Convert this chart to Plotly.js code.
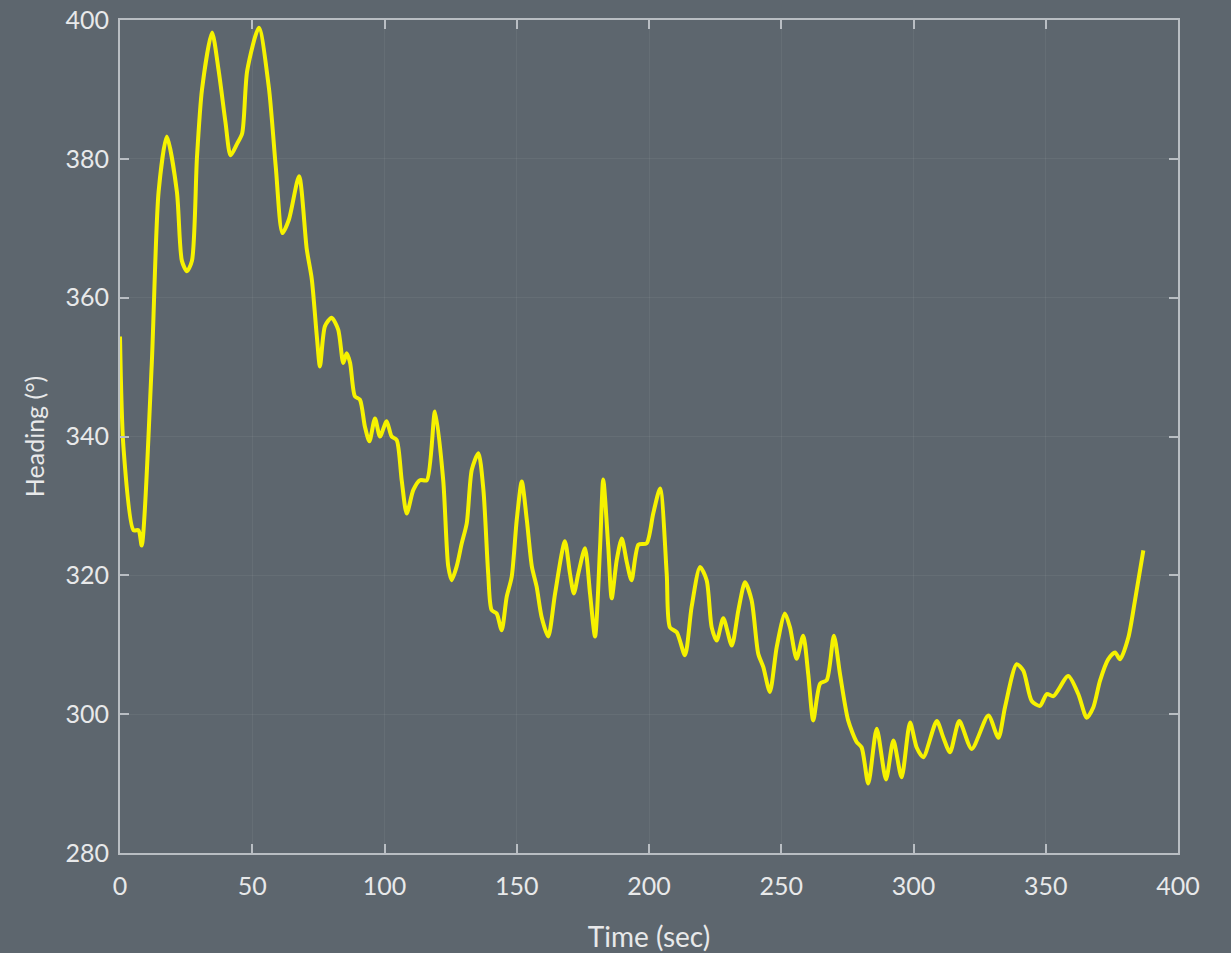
<!DOCTYPE html>
<html>
<head>
<meta charset="utf-8">
<script src="https://cdn.plot.ly/plotly-3.0.1.min.js"></script>
<style>
html,body{margin:0;padding:0;background:#5d666e;}
#chart{width:1231px;height:953px;}
</style>
</head>
<body>
<div id="chart"></div>
<script>
// Time (sec)
const timeSec = [0,1.3,5.1,7,8.2,12,14.6,17.7,21.5,23.4,25.3,27.2,29.1,31,34.8,37.3,39.9,41.8,44.3,46.2,48.1,52.5,56.3,58.9,61.4,63.9,67.7,70.6,72.5,74.4,75.6,77.5,80,82.5,84.4,85.7,87,88.8,90.7,92.6,94.3,96.4,98.3,100.8,102.7,104.6,106.5,108.4,110.9,113.4,116,119.1,122.2,124.1,125.4,127.3,129.2,131.1,133,135.5,137.4,139.2,140.5,142.4,144.3,146.2,148.1,150,151.9,153.8,155.7,157.5,159.4,161.9,164.5,168.2,170.1,171.6,173.3,175.8,177.7,179.6,181.5,182.7,184.6,185.9,187.8,189.7,191.6,193.4,196,199.1,201.6,204.2,206.7,207.9,210.5,213.6,216.1,219.3,221.8,223.7,225.6,228.1,231.3,233.8,236.3,238.8,241.3,243.2,245.7,248.3,251.4,253.3,255.8,258.3,260.2,262.1,264.7,267.2,269.9,272.2,275.3,278.5,280.4,282.9,286.1,289.6,292.4,295.5,298.7,301.2,303.7,308.8,311.3,313.8,317.3,322,328.3,332.1,334.6,339,341.5,344.7,347.8,350.4,352.9,358.5,362.3,365.5,368,370.5,373.6,376.2,378.1,381.2,383.7,386.9];
// Heading (deg)
const headingDeg = [354.4,338.5,326.5,326.5,324.3,350.4,375.3,383.2,375.3,365.3,363.8,365.3,380.2,390,398.2,392.7,385.2,380.5,382.2,383.7,392.7,398.9,390.2,378.8,369.3,371.3,377.5,367,362.7,354.5,350.1,355.9,357.1,355.4,350.6,352,350.6,345.8,345.3,341.4,339.3,342.6,340,342.2,340,339.5,333.7,328.9,332.3,333.7,333.7,343.6,333.7,321.3,319.3,321.3,324.6,327.5,335.2,337.6,332.3,320.3,315,314.5,312.1,316.9,319.8,328,333.5,328,321.3,318.4,314,311.2,317.4,324.9,320.3,317.4,320.3,323.9,317.4,311.2,324.1,333.8,324.1,316.7,322.2,325.3,321.9,319.3,324.4,324.6,328.9,332.5,320.2,312.5,311.8,308.5,315.4,321.2,319.3,312.5,310.6,313.8,309.9,315,319,316.4,308.7,306.8,303.2,309.7,314.5,312.5,308,311.3,305.8,299.1,304.4,304.9,311.3,305.8,299.1,296,295.2,290,297.9,290.6,296.2,290.9,298.8,295.2,293.8,299,296.6,294.5,299,295,299.8,296.6,301,307.2,306.3,301.9,301.2,302.9,302.6,305.5,302.9,299.5,301,304.8,307.9,308.9,307.9,311,316.3,323.6];
const xTicks = [0,50,100,150,200,250,300,350,400];
const xTickText = ['0','50','100','150','200','250','300','350','400'];
const yTicks = [280,300,320,340,360,380,400];
const yTickText = ['280','300','320','340','360','380','400'];

const bg = '#5d666e';
const axisCol = '#b9bec3';
const txtCol = '#e8e9ea';
const fontFam = 'Lato, "Open Sans", sans-serif';

const trace = {
  x: timeSec, y: headingDeg, type: 'scatter', mode: 'lines',
  line: {color: '#f6f200', width: 4, shape: 'spline', smoothing: 0.7},
  hoverinfo: 'skip'
};

const layout = {
  width: 1231, height: 953,
  paper_bgcolor: bg, plot_bgcolor: bg,
  margin: {l: 120, r: 53, t: 20, b: 100},
  showlegend: false,
  xaxis: {
    range: [0, 400], tickmode: 'array', tickvals: xTicks, ticktext: xTickText,
    showline: true, linecolor: axisCol, linewidth: 2, mirror: 'ticks',
    ticks: 'inside', ticklen: 9, tickwidth: 2, tickcolor: axisCol,
    showgrid: true, gridcolor: 'rgba(255,255,255,0.055)', gridwidth: 1,
    zeroline: false, automargin: false, ticklabelstandoff: 10,
    tickfont: {family: fontFam, size: 25, color: txtCol},
    title: {text: 'Time (sec)', font: {family: fontFam, size: 28, color: txtCol}, standoff: 30}
  },
  yaxis: {
    range: [280, 400], tickmode: 'array', tickvals: yTicks, ticktext: yTickText,
    showline: true, linecolor: axisCol, linewidth: 2, mirror: 'ticks',
    ticks: 'inside', ticklen: 9, tickwidth: 2, tickcolor: axisCol,
    showgrid: true, gridcolor: 'rgba(255,255,255,0.055)', gridwidth: 1,
    zeroline: false, automargin: false, ticklabelstandoff: 4,
    tickfont: {family: fontFam, size: 25, color: txtCol},
    title: {text: 'Heading (°)', font: {family: fontFam, size: 25, color: txtCol}, standoff: 14}
  }
};

Plotly.newPlot('chart', [trace], layout, {displayModeBar: false, staticPlot: true});
</script>
</body>
</html>
